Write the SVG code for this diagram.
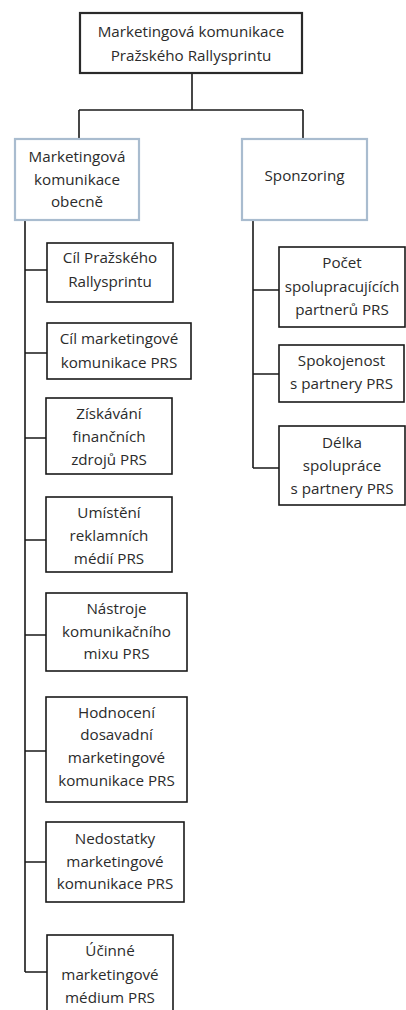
<svg xmlns="http://www.w3.org/2000/svg" width="406" height="1010" viewBox="0 0 406 1010">
<style>
.bg{fill:#ffffff}
.root{fill:#fff;stroke:#2a2a2a;stroke-width:2.2}
.lvl1{fill:#fff;stroke:#a9bccf;stroke-width:2.2}
.leaf{fill:#fff;stroke:#1a1a1a;stroke-width:1.6}
.con{fill:none;stroke:#1a1a1a;stroke-width:1.6}
text{font-family:"Open Sans","Liberation Sans",sans-serif;font-size:15.2px;fill:#2b2b2b;text-anchor:middle}
</style>
<rect class="bg" x="0" y="0" width="406" height="1010"/>
<g id="connectors">
<path class="con" d="M192,73V110M79,110H303M79,110V139M303,110V139"/>
<path class="con" d="M25,220V972M25,270H47M25,353H47M25,438H46M25,540H46M25,635H46M25,751H46M25,862H46M25,972H47"/>
<path class="con" d="M253,220V468M253,290H279M253,374H279M253,468H279"/>
</g>
<g id="root">
<rect class="root" x="80" y="13" width="222" height="60"/>
<text x="191" y="37">Marketingová komunikace</text>
<text x="191" y="61">Pražského Rallysprintu</text>
</g>
<g id="obecne">
<rect class="lvl1" x="15" y="139" width="124" height="81"/>
<text x="77" y="162">Marketingová</text>
<text x="77" y="185">komunikace</text>
<text x="77" y="207">obecně</text>
</g>
<g id="sponzoring">
<rect class="lvl1" x="242" y="139" width="125" height="81"/>
<text x="304.5" y="181">Sponzoring</text>
</g>
<g id="cil-prs">
<rect class="leaf" x="47" y="243" width="126" height="59"/>
<text x="110" y="263">Cíl Pražského</text>
<text x="110" y="287">Rallysprintu</text>
</g>
<g id="cil-mk">
<rect class="leaf" x="47" y="323" width="144" height="56"/>
<text x="119" y="344">Cíl marketingové</text>
<text x="119" y="368">komunikace PRS</text>
</g>
<g id="ziskavani">
<rect class="leaf" x="46" y="398" width="126" height="76"/>
<text x="109" y="419">Získávání</text>
<text x="109" y="442">finančních</text>
<text x="109" y="465">zdrojů PRS</text>
</g>
<g id="umisteni">
<rect class="leaf" x="46" y="497" width="126" height="75"/>
<text x="109" y="518">Umístění</text>
<text x="109" y="541">reklamních</text>
<text x="109" y="564">médií PRS</text>
</g>
<g id="nastroje">
<rect class="leaf" x="46" y="593" width="141" height="78"/>
<text x="116.5" y="614">Nástroje</text>
<text x="116.5" y="637">komunikačního</text>
<text x="116.5" y="659">mixu PRS</text>
</g>
<g id="hodnoceni">
<rect class="leaf" x="46" y="697" width="141" height="105"/>
<text x="116.5" y="718">Hodnocení</text>
<text x="116.5" y="740">dosavadní</text>
<text x="116.5" y="763">marketingové</text>
<text x="116.5" y="786">komunikace PRS</text>
</g>
<g id="nedostatky">
<rect class="leaf" x="46" y="822" width="138" height="80"/>
<text x="115" y="844">Nedostatky</text>
<text x="115" y="867">marketingové</text>
<text x="115" y="889">komunikace PRS</text>
</g>
<g id="ucinne">
<rect class="leaf" x="47" y="935" width="126" height="80"/>
<text x="110" y="956">Účinné</text>
<text x="110" y="980">marketingové</text>
<text x="110" y="1003">médium PRS</text>
</g>
<g id="pocet">
<rect class="leaf" x="279" y="247" width="126" height="80"/>
<text x="342" y="268">Počet</text>
<text x="342" y="292">spolupracujících</text>
<text x="342" y="315">partnerů PRS</text>
</g>
<g id="spokojenost">
<rect class="leaf" x="279" y="345" width="125" height="57"/>
<text x="341.5" y="366">Spokojenost</text>
<text x="341.5" y="389">s partnery PRS</text>
</g>
<g id="delka">
<rect class="leaf" x="279" y="426" width="126" height="79"/>
<text x="342" y="448">Délka</text>
<text x="342" y="471">spolupráce</text>
<text x="342" y="494">s partnery PRS</text>
</g>
</svg>
